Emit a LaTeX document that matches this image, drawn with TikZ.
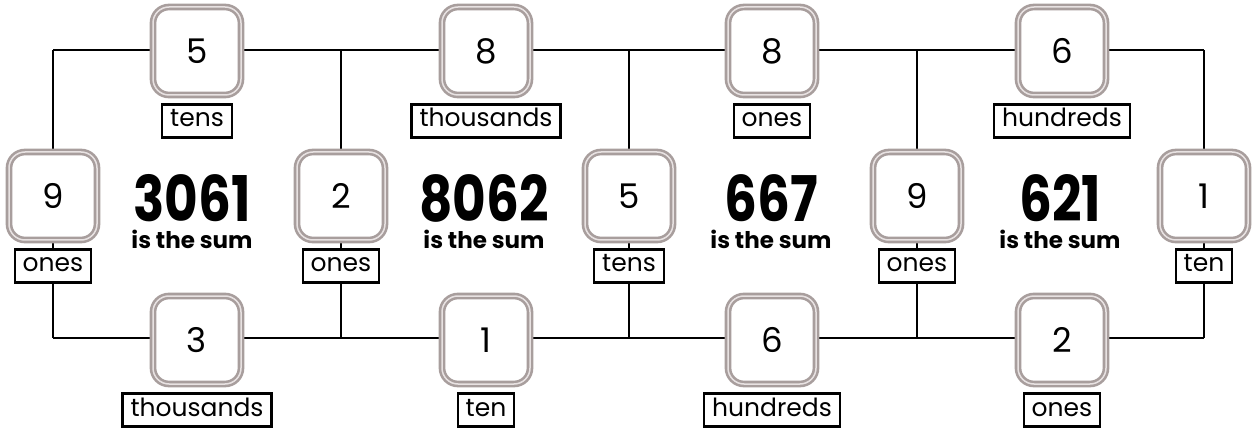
\documentclass[tikz,border=0pt]{standalone}
\usepackage{fontspec}
\usepackage{graphicx}
\setmainfont{Poppins}
\usetikzlibrary{backgrounds}
\definecolor{rimgray}{HTML}{A89E9D}
\definecolor{rimlight}{HTML}{E8E2E2}
\newcommand{\narrow}[1]{\scalebox{0.82}[1]{#1}}
\tikzset{
  digit/.style={draw=rimgray, double=rimlight, double distance=1.5pt, line width=2.6pt,
    fill=white, rounded corners=16pt, minimum width=88pt, minimum height=88pt,
    font=\fontsize{34}{34}\selectfont},
  place/.style={draw=black, line width=2.2pt, fill=white, minimum height=33pt,
    text height=17pt, text depth=5pt, inner xsep=8pt, inner ysep=0pt,
    font=\fontsize{25}{25}\selectfont},
  total/.style={anchor=base, inner sep=0pt, text height=44pt, text depth=0pt,
    font=\fontsize{63}{63}\bfseries\selectfont},
  sumtext/.style={anchor=base, inner sep=0pt, text height=16pt,
    font=\fontsize{23}{23}\bfseries\selectfont},
  wire/.style={line width=2.8pt},
}
\begin{document}
\begin{tikzpicture}[x=1pt,y=-1pt]
\useasboundingbox (0,0) rectangle (1252,430);
% top and bottom rows
\foreach \n/\x/\d/\p in {1/197/5/tens,2/486/8/thousands,3/772/8/ones,4/1062/6/hundreds}
{\node[digit] (top\n) at (\x,51) {\d};
\node[place] (toplab\n) at (\x,121) {\p};}
\foreach \n/\x/\d/\p in {1/197/3/thousands,2/486/1/ten,3/772/6/hundreds,4/1062/2/ones}
{\node[digit] (bot\n) at (\x,340) {\d};
\node[place] (botlab\n) at (\x,410) {\p};}
% middle row
\foreach \n/\x/\d/\p in {0/53/9/ones,1/341/2/ones,2/629/5/tens,3/917/9/ones,4/1204/1/ten}
{\node[digit] (mid\n) at (\x,196) {\d};
\node[place] (midlab\n) at (\x,266) {\p};
\coordinate (t\n) at (\x,50);
\coordinate (b\n) at (\x,338);}
% sums
\foreach \n/\x/\s in {1/192/3061,2/484/8062,3/771/667,4/1060/621}
{\node[total] (sum\n) at (\x,222) {\narrow{\s}};
\node[sumtext] (is\n) at (\x,249) {is the sum};}
\begin{scope}[on background layer]
\draw[wire] (t0) -- (t4);
\draw[wire] (b0) -- (b4);
\foreach \n in {0,...,4}
\draw[wire] (t\n) -- (b\n);
\end{scope}
\end{tikzpicture}
\end{document}
